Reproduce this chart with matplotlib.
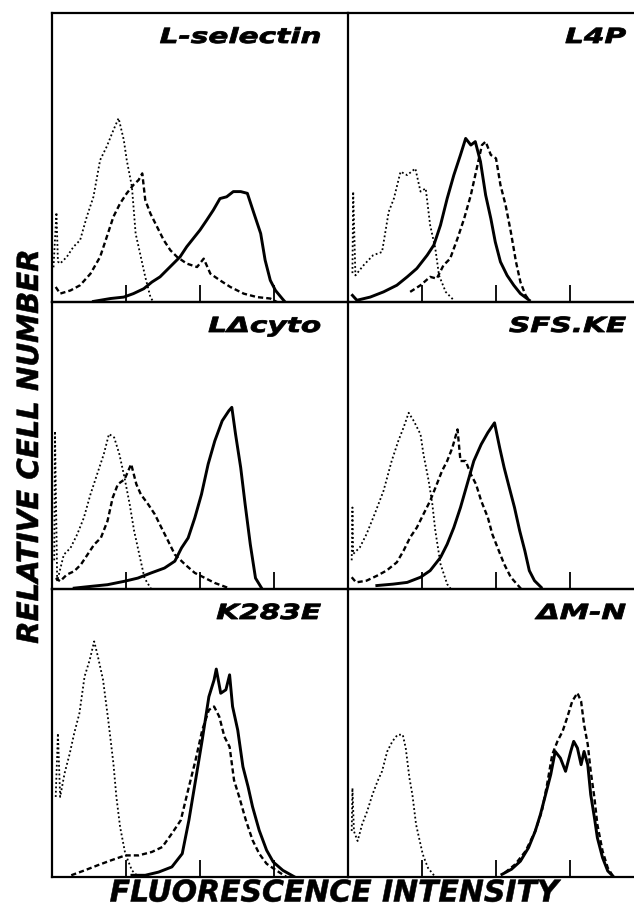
import numpy as np
import matplotlib
matplotlib.use('Agg')
from matplotlib import pyplot as plt
from matplotlib.patheffects import AbstractPathEffect
from matplotlib.transforms import Affine2D
from matplotlib.ticker import NullLocator

# x = log10 fluorescence (decades 0-4), y = relative cell number (% of panel height)
# dot = control, dash / solid = stained

# L-selectin
lsel_dot_x = [0.02, 0.06, 0.08, 0.11, 0.20, 0.29, 0.38, 0.47, 0.56, 0.65, 0.74, 0.83, 0.90, 0.97, 1.01, 1.08, 1.13, 1.19, 1.26, 1.33, 1.37]
lsel_dot_y = [12, 31, 14, 13.3, 15.6, 19.1, 21.4, 29.5, 36.4, 49.1, 53.8, 59.5, 63.6, 56.1, 49.1, 39.9, 23.7, 16.8, 8.7, 1.7, 0]
lsel_dash_x = [0.05, 0.11, 0.25, 0.38, 0.52, 0.65, 0.74, 0.83, 0.92, 1.01, 1.10, 1.17, 1.22, 1.26, 1.33, 1.42, 1.51, 1.60, 1.69, 1.82, 1.96, 2.05, 2.14, 2.27, 2.41, 2.59, 2.77, 2.95, 3.04]
lsel_dash_y = [5.2, 2.9, 4.0, 5.8, 9.8, 15.6, 22.5, 29.5, 34.1, 37.6, 40.5, 42.2, 44.5, 35.3, 30.6, 26.0, 21.4, 17.9, 15.6, 13.3, 12.1, 15.0, 9.8, 7.5, 5.2, 2.9, 1.7, 1.2, 0]
lsel_sol_x = [0.56, 0.79, 0.97, 1.10, 1.24, 1.35, 1.46, 1.55, 1.64, 1.73, 1.82, 1.91, 2.00, 2.09, 2.18, 2.27, 2.36, 2.45, 2.55, 2.64, 2.73, 2.82, 2.88, 2.95, 3.02, 3.11, 3.15]
lsel_sol_y = [0.2, 1.2, 1.7, 2.9, 4.6, 6.9, 8.7, 11.0, 13.3, 15.6, 19.1, 22.0, 24.9, 28.3, 31.8, 35.8, 36.4, 38.2, 38.2, 37.6, 30.6, 23.7, 14.5, 7.5, 4.0, 1.2, 0]

# L4P
l4p_dot_x = [0.06, 0.07, 0.10, 0.21, 0.34, 0.46, 0.55, 0.62, 0.71, 0.80, 0.91, 0.98, 1.05, 1.11, 1.18, 1.23, 1.32, 1.43]
l4p_dot_y = [10, 38.2, 9.2, 12.7, 16.2, 17.3, 31.2, 35.8, 45.1, 43.9, 46.2, 38.2, 39.3, 26.6, 18.5, 9.2, 3.5, 0.6]
l4p_dash_x = [0.84, 0.98, 1.11, 1.20, 1.29, 1.38, 1.48, 1.57, 1.66, 1.75, 1.81, 1.86, 1.93, 2.00, 2.06, 2.13, 2.20, 2.27, 2.33, 2.40, 2.45]
l4p_dash_y = [3.5, 5.8, 8.7, 8.1, 12.7, 15.0, 22.0, 28.9, 37.0, 47.4, 54.3, 55.5, 50.9, 49.7, 40.5, 33.5, 24.3, 13.9, 6.9, 2.3, 0.6]
l4p_sol_x = [0.06, 0.12, 0.30, 0.48, 0.66, 0.80, 0.93, 1.07, 1.16, 1.25, 1.34, 1.43, 1.52, 1.59, 1.66, 1.72, 1.79, 1.86, 1.93, 1.99, 2.06, 2.15, 2.24, 2.33, 2.45]
l4p_sol_y = [2.3, 0.6, 1.7, 3.5, 5.8, 8.7, 11.6, 16.2, 19.7, 26.6, 35.8, 43.9, 50.9, 56.6, 54.3, 55.5, 48.6, 37.0, 28.9, 20.8, 13.9, 9.2, 5.8, 2.9, 0.6]

# L-delta-cyto
lcyt_dot_x = [0.03, 0.04, 0.07, 0.16, 0.25, 0.34, 0.43, 0.52, 0.61, 0.70, 0.77, 0.84, 0.91, 0.98, 1.05, 1.11, 1.18, 1.25, 1.34]
lcyt_dot_y = [10, 55, 2.7, 12.0, 14.3, 19.0, 24.8, 33.0, 40.0, 47.0, 54.0, 52.8, 47.0, 38.8, 29.5, 20.2, 12.0, 3.8, 0]
lcyt_dash_x = [0.05, 0.11, 0.20, 0.30, 0.39, 0.48, 0.57, 0.66, 0.75, 0.82, 0.89, 0.98, 1.07, 1.14, 1.20, 1.30, 1.39, 1.48, 1.57, 1.66, 1.80, 1.93, 2.07, 2.20, 2.39]
lcyt_dash_y = [3.8, 2.7, 5.0, 6.2, 8.5, 12.0, 15.5, 17.8, 23.7, 31.8, 36.5, 38.2, 43.5, 36.5, 33.0, 29.5, 26.0, 21.3, 16.7, 12.0, 8.5, 5.6, 3.8, 2.1, 0.3]
lcyt_sol_x = [0.30, 0.52, 0.75, 0.98, 1.16, 1.34, 1.52, 1.66, 1.75, 1.84, 1.93, 2.02, 2.11, 2.20, 2.30, 2.39, 2.43, 2.48, 2.55, 2.61, 2.68, 2.75, 2.84]
lcyt_sol_y = [0.3, 0.9, 1.5, 2.7, 3.8, 5.6, 7.3, 9.7, 14.3, 17.8, 24.8, 33.0, 43.5, 51.6, 58.6, 62.1, 63.3, 54.0, 42.3, 29.5, 15.5, 3.8, 0]

# SFS.KE
sfs_dot_x = [0.05, 0.06, 0.07, 0.16, 0.25, 0.36, 0.48, 0.59, 0.68, 0.75, 0.82, 0.89, 0.98, 1.02, 1.09, 1.14, 1.18, 1.25, 1.34, 1.39]
sfs_dot_y = [10, 28.4, 12.2, 14.5, 19.1, 26.1, 34.2, 44.6, 51.6, 56.2, 61.4, 58.5, 53.9, 46.9, 37.7, 29.5, 20.3, 8.7, 1.7, 0]
sfs_dash_x = [0.05, 0.11, 0.25, 0.39, 0.52, 0.66, 0.75, 0.84, 0.93, 1.02, 1.11, 1.20, 1.27, 1.34, 1.41, 1.48, 1.52, 1.59, 1.66, 1.73, 1.80, 1.89, 1.95, 2.02, 2.11, 2.20, 2.30, 2.34]
sfs_dash_y = [4.1, 2.3, 2.9, 4.6, 6.4, 9.3, 13.3, 18.0, 21.4, 26.1, 30.7, 36.5, 41.1, 44.6, 49.2, 55.6, 44.6, 44.6, 40.0, 36.5, 30.7, 24.9, 19.1, 14.5, 8.7, 4.1, 1.2, 0]
sfs_sol_x = [0.39, 0.61, 0.80, 0.98, 1.11, 1.25, 1.34, 1.43, 1.52, 1.61, 1.70, 1.80, 1.89, 1.98, 2.05, 2.11, 2.18, 2.25, 2.32, 2.39, 2.45, 2.52, 2.61]
sfs_sol_y = [1.2, 1.7, 2.3, 4.1, 6.4, 11.0, 15.6, 21.4, 28.4, 36.5, 44.6, 50.4, 54.5, 57.9, 49.2, 42.3, 35.3, 28.4, 20.3, 13.3, 6.4, 2.9, 0.6]

# K283E
k283_dot_x = [0.05, 0.08, 0.11, 0.17, 0.24, 0.30, 0.37, 0.44, 0.51, 0.57, 0.62, 0.69, 0.76, 0.83, 0.87, 0.92, 0.99, 1.08, 1.17]
k283_dot_y = [27.8, 49.9, 27.8, 36.0, 42.9, 49.9, 56.8, 69.6, 75.4, 81.8, 76.6, 68.4, 54.5, 39.4, 27.8, 17.4, 8.1, 2.3, 0]
k283_dash_x = [0.26, 0.44, 0.62, 0.80, 0.99, 1.17, 1.35, 1.49, 1.62, 1.74, 1.85, 1.94, 2.03, 2.12, 2.19, 2.26, 2.33, 2.40, 2.46, 2.53, 2.62, 2.71, 2.80, 2.90, 3.03, 3.17]
k283_dash_y = [0.6, 2.3, 4.1, 5.8, 7.5, 7.5, 8.7, 10.4, 15.1, 19.7, 31.3, 40.6, 51.0, 58.0, 59.2, 55.7, 48.7, 45.2, 33.6, 27.8, 19.7, 12.8, 8.1, 4.6, 2.3, 0]
k283_sol_x = [1.08, 1.26, 1.44, 1.62, 1.76, 1.85, 1.94, 2.03, 2.12, 2.19, 2.22, 2.28, 2.35, 2.40, 2.44, 2.51, 2.58, 2.65, 2.71, 2.80, 2.90, 2.99, 3.12, 3.28]
k283_sol_y = [0.6, 0.6, 1.7, 3.5, 8.1, 19.7, 33.6, 47.6, 62.6, 68.4, 72.2, 63.8, 65.0, 70.2, 59.2, 51.0, 38.3, 31.3, 24.4, 16.2, 9.3, 5.2, 2.3, 0]

# delta M-N
dmn_dot_x = [0.05, 0.06, 0.08, 0.13, 0.19, 0.26, 0.33, 0.40, 0.46, 0.53, 0.60, 0.67, 0.74, 0.78, 0.83, 0.87, 0.92, 0.96, 1.01, 1.08, 1.17]
dmn_dot_y = [16, 30.9, 15.9, 12.5, 18.2, 22.9, 28.6, 33.3, 36.7, 43.6, 47.1, 49.4, 49.4, 44.8, 34.4, 28.6, 18.2, 13.6, 7.9, 3.2, 0.3]
dmn_dash_x = [2.12, 2.26, 2.40, 2.53, 2.62, 2.69, 2.76, 2.83, 2.90, 2.96, 3.03, 3.10, 3.15, 3.19, 3.24, 3.28, 3.33, 3.37, 3.44, 3.51, 3.58]
dmn_dash_y = [1.5, 4.4, 9.0, 15.9, 22.9, 32.1, 42.5, 47.1, 50.6, 55.2, 61.0, 63.9, 61.0, 52.9, 46.0, 36.7, 27.5, 18.2, 9.0, 3.2, 0.3]
dmn_sol_x = [2.08, 2.21, 2.33, 2.44, 2.53, 2.60, 2.67, 2.74, 2.80, 2.87, 2.94, 3.01, 3.05, 3.10, 3.15, 3.19, 3.24, 3.28, 3.33, 3.37, 3.44, 3.51, 3.58]
dmn_sol_y = [0.9, 2.7, 5.5, 10.2, 15.9, 21.7, 28.6, 35.6, 43.6, 41.3, 36.7, 43.6, 47.1, 44.8, 39.0, 43.6, 39.0, 28.6, 20.6, 13.6, 6.7, 2.1, 0.3]

panel_names = ['L-selectin', 'L4P', 'L\u0394cyto', 'SFS.KE', 'K283E', '\u0394M-N']
panel_data = [
	(lsel_dot_x, lsel_dot_y, lsel_dash_x, lsel_dash_y, lsel_sol_x, lsel_sol_y),
	(l4p_dot_x, l4p_dot_y, l4p_dash_x, l4p_dash_y, l4p_sol_x, l4p_sol_y),
	(lcyt_dot_x, lcyt_dot_y, lcyt_dash_x, lcyt_dash_y, lcyt_sol_x, lcyt_sol_y),
	(sfs_dot_x, sfs_dot_y, sfs_dash_x, sfs_dash_y, sfs_sol_x, sfs_sol_y),
	(k283_dot_x, k283_dot_y, k283_dash_x, k283_dash_y, k283_sol_x, k283_sol_y),
	(dmn_dot_x, dmn_dot_y, dmn_dash_x, dmn_dash_y, dmn_sol_x, dmn_sol_y),
]


class Widen(AbstractPathEffect):
	# wide, heavy lettering: stretch sideways (right end fixed) and add a thin outline
	def __init__(self, sx, stroke):
		super().__init__()
		self.sx = sx
		self.stroke = stroke

	def draw_path(self, renderer, gc, tpath, affine, rgbFace=None):
		x1 = tpath.get_extents().x1
		t = Affine2D().translate(-x1, 0).scale(self.sx, 1).translate(x1, 0) + affine
		gc0 = renderer.new_gc()
		gc0.copy_properties(gc)
		gc0.set_linewidth(self.stroke)
		gc0.set_joinstyle('round')
		renderer.draw_path(gc0, tpath, t, rgbFace)
		gc0.restore()


W, H = 634.0, 914.0
fig = plt.figure(figsize=(6.34, 9.14), dpi=100)
fig.patch.set_facecolor('white')

col_left = [52, 348]
col_w = 296
row_top = [13, 302, 589]
row_bot = [302, 589, 877]
lab_right = [321, 626]

font = dict(family='DejaVu Sans', weight='bold', style='oblique')

for k in range(6):
	r = k // 2; c = k % 2
	ax = fig.add_axes([col_left[c]/W, (H-row_bot[r])/H, col_w/W, (row_bot[r]-row_top[r])/H])
	dx, dy, ex, ey, sx, sy = panel_data[k]
	ax.plot(10**np.array(dx), dy, color='k', lw=1.3, linestyle=(0, (1, 1.4)))
	ax.plot(10**np.array(ex), ey, color='k', lw=1.7, linestyle=(0, (2.2, 1.3)))
	ax.plot(10**np.array(sx), sy, color='k', lw=2.1, solid_joinstyle='round')
	ax.set_xscale('log')
	ax.set_xlim(1, 1e4)
	ax.set_ylim(0, 100)
	ax.set_xticks([10, 100, 1000])
	ax.xaxis.set_minor_locator(NullLocator())
	ax.set_yticks([])
	ax.tick_params(axis='x', direction='in', length=12, width=1.3, labelbottom=False, color='k')
	ax.spines['right'].set_visible(False)
	for s in ['left', 'top', 'bottom']:
		ax.spines[s].set_linewidth(1.6)
	ax.patch.set_alpha(0)

	fig.text(lab_right[c]/W, 1 - (row_top[r]+30)/H, panel_names[k], ha='right', va='baseline',
		fontsize=15, path_effects=[Widen(1.42, 0.6)], **font)

fig.text(30/W, 1 - 447/H, 'RELATIVE CELL NUMBER', rotation=90, ha='center', va='center',
	fontsize=21, path_effects=[Widen(1.0, 0.4)], **font)
fig.text(334/W, 1 - 893/H, 'FLUORESCENCE INTENSITY', ha='center', va='center',
	fontsize=21.5, path_effects=[Widen(1.0, 0.4)], **font)

fig.savefig('out.png', dpi=100)
